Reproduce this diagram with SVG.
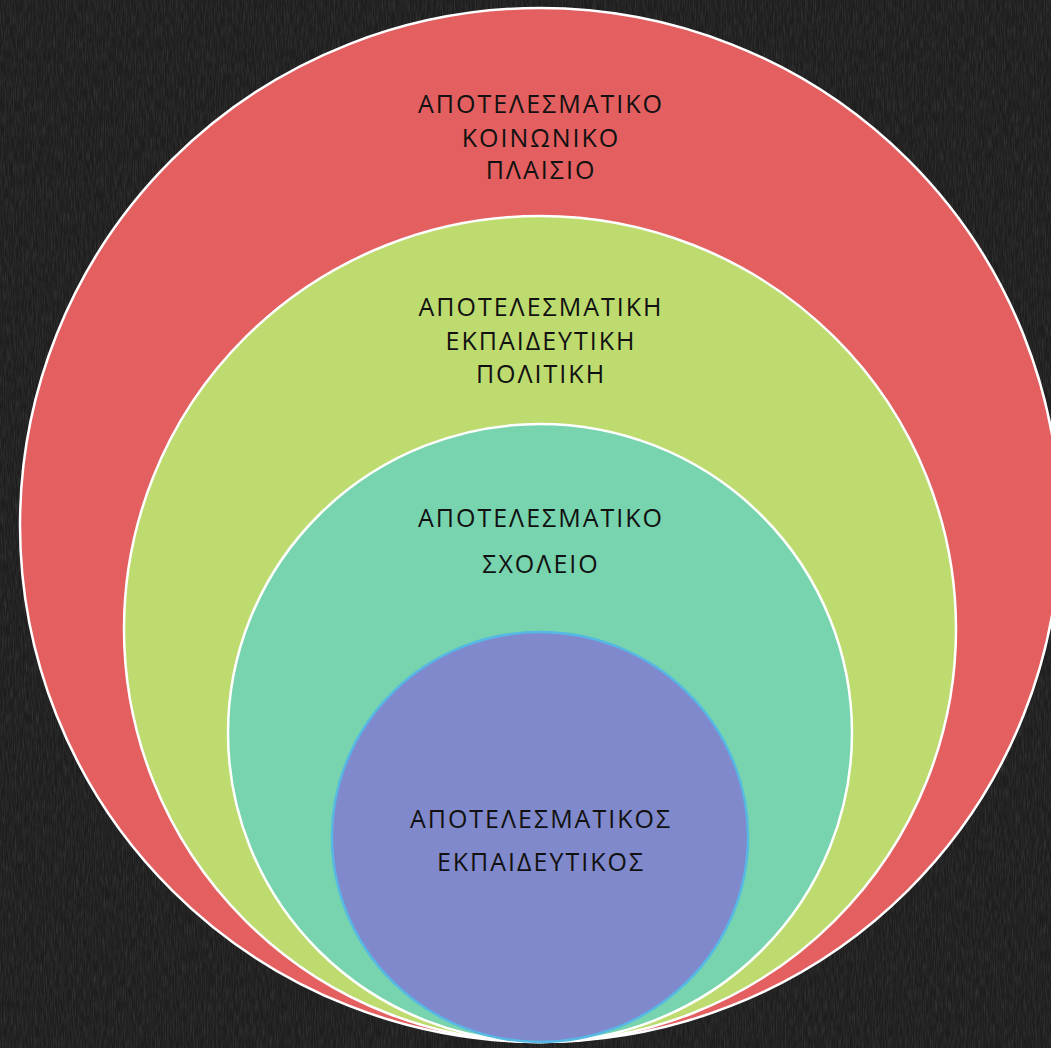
<svg xmlns="http://www.w3.org/2000/svg" width="1051" height="1048" viewBox="0 0 1051 1048">
  <defs>
    <filter id="chalk" x="0" y="0" width="100%" height="100%">
      <feTurbulence type="fractalNoise" baseFrequency="0.9 0.08" numOctaves="2" seed="3" result="n"/>
      <feColorMatrix in="n" type="matrix" values="0 0 0 0 1  0 0 0 0 1  0 0 0 0 1  0.5 0 0 0 -0.18"/>
    </filter>
  </defs>
  <style>
    .ring { stroke: #ffffff; stroke-width: 2.5; }
    .lbl { font-family: "Open Sans", "Noto Sans", "DejaVu Sans", sans-serif; font-size: 25px; letter-spacing: 2px; fill: #111111; text-anchor: middle; }
  </style>
  <rect width="1051" height="1048" fill="#1e1e1e"/>
  <rect width="1051" height="1048" filter="url(#chalk)" opacity="0.35"/>
  <g id="node-social">
    <ellipse class="ring" cx="540" cy="525" rx="520" ry="517" fill="#E35F60"/>
    <text class="lbl" x="541" y="113">ΑΠΟΤΕΛΕΣΜΑΤΙΚΟ</text>
    <text class="lbl" x="541" y="147">ΚΟΙΝΩΝΙΚΟ</text>
    <text class="lbl" x="541" y="179">ΠΛΑΙΣΙΟ</text>
  </g>
  <g id="node-policy">
    <ellipse class="ring" cx="540" cy="629" rx="416" ry="413" fill="#BDDB6E"/>
    <text class="lbl" x="541" y="316">ΑΠΟΤΕΛΕΣΜΑΤΙΚΗ</text>
    <text class="lbl" x="541" y="350">ΕΚΠΑΙΔΕΥΤΙΚΗ</text>
    <text class="lbl" x="541" y="383">ΠΟΛΙΤΙΚΗ</text>
  </g>
  <g id="node-school">
    <ellipse class="ring" cx="540" cy="733" rx="312" ry="309" fill="#77D4AE"/>
    <text class="lbl" x="541" y="527">ΑΠΟΤΕΛΕΣΜΑΤΙΚΟ</text>
    <text class="lbl" x="541" y="573">ΣΧΟΛΕΙΟ</text>
  </g>
  <g id="node-teacher">
    <ellipse cx="540" cy="837" rx="208" ry="205" fill="#8089CB" stroke="#56B8E4" stroke-width="2.5"/>
    <text class="lbl" x="541" y="828">ΑΠΟΤΕΛΕΣΜΑΤΙΚΟΣ</text>
    <text class="lbl" x="541" y="871">ΕΚΠΑΙΔΕΥΤΙΚΟΣ</text>
  </g>
  <g id="connectors"/>
</svg>
